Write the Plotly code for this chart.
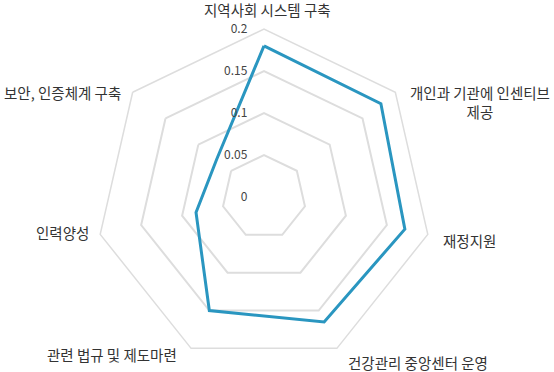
import plotly.graph_objects as go

categories = [
    "지역사회 시스템 구축",
    "개인과 기관에 인센티브<br>제공",
    "재정지원",
    "건강관리 중앙센터 운영",
    "관련 법규 및 제도마련",
    "인력양성",
    "보안, 인증체계 구축",
]
values = [0.18, 0.178, 0.172, 0.165, 0.15, 0.083, 0.072]
radial_ticks = [0, 0.05, 0.1, 0.15, 0.2]
radial_ticktext = ["0", "0.05", "0.1", "0.15", "0.2"]

# label placement (px from top-left): x, y, xanchor
label_pos = [
    (267, 10, "center"),
    (408, 102, "left"),
    (441, 240, "left"),
    (346, 362, "left"),
    (179, 354, "right"),
    (91, 232, "right"),
    (123, 92, "right"),
]

fig = go.Figure()
fig.add_trace(go.Scatterpolar(
    r=values + values[:1],
    theta=categories + categories[:1],
    mode="lines",
    line=dict(color="#2a96c0", width=3),
    hoverinfo="skip",
    showlegend=False,
))

W, H = 554, 372
cx, cy, R = 264, 197, 168
annotations = []
for text, (lx, ly, xa) in zip(categories, label_pos):
    annotations.append(dict(
        text=text, x=lx / W, y=1 - ly / H, xref="paper", yref="paper",
        xanchor=xa, yanchor="middle", showarrow=False, align="center",
        font=dict(size=14.5, color="#333333",
                  family="Noto Sans CJK KR, sans-serif"),
    ))

fig.update_layout(
    width=W, height=H,
    margin=dict(l=0, r=0, t=0, b=0),
    paper_bgcolor="white",
    plot_bgcolor="white",
    font=dict(family="Noto Sans CJK KR, sans-serif", color="#333333"),
    annotations=annotations,
    polar=dict(
        domain=dict(x=[(cx - R) / W, (cx + R) / W],
                    y=[(H - cy - R) / H, (H - cy + R) / H]),
        bgcolor="white",
        gridshape="linear",
        radialaxis=dict(
            range=[0, 0.2],
            tickvals=radial_ticks,
            ticktext=radial_ticktext,
            showline=False,
            ticks="outside",
            ticklen=12,
            tickcolor="rgba(0,0,0,0)",
            angle=90,
            tickangle=90,
            side="counterclockwise",
            gridcolor="#dddddd",
            gridwidth=1.5,
            tickfont=dict(size=12, color="#444444"),
        ),
        angularaxis=dict(
            rotation=90,
            direction="clockwise",
            showgrid=False,
            showline=True,
            showticklabels=False,
            linecolor="#dddddd",
            linewidth=1.5,
            ticks="",
        ),
    ),
)

fig.write_html("out.html", config={"displayModeBar": False},
               post_script="document.body.style.margin='0';")
